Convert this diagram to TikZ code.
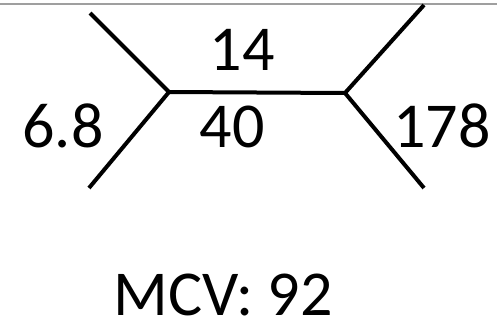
\documentclass[tikz,border=0pt]{standalone}
\usepackage{fontspec}
\setmainfont{Carlito}
\begin{document}
\begin{tikzpicture}[x=1pt,y=-1pt,
  edge/.style={line width=4pt, black},
  lbl/.style={font=\fontsize{64}{64}\selectfont, inner sep=0pt, anchor=base}]
\useasboundingbox (0,0) rectangle (497,324);
\fill[white] (0,0) rectangle (497,324);
% thin rule along the top
\draw[gray!75, line width=1.5pt] (0,4) -- (497,4);
% tree vertices
\coordinate (u) at (169,92);
\coordinate (v) at (345,93);
\coordinate (a) at (90,13);
\coordinate (b) at (89,188);
\coordinate (c) at (424,5);
\coordinate (d) at (424,188);
% branches
\draw[edge] (a) -- (u);
\draw[edge] (b) -- (u);
\draw[edge] (u) -- (v);
\draw[edge] (c) -- (v);
\draw[edge] (d) -- (v);
% branch labels
\node[lbl] (l14) at (242,70) {14};
\node[lbl] (l68) at (63,147) {6.8};
\node[lbl] (l40) at (232,147) {40};
\node[lbl] (l178) at (442,147) {178};
\node[lbl] (mcv) at (223,315) {MCV: 92};
\end{tikzpicture}
\end{document}
